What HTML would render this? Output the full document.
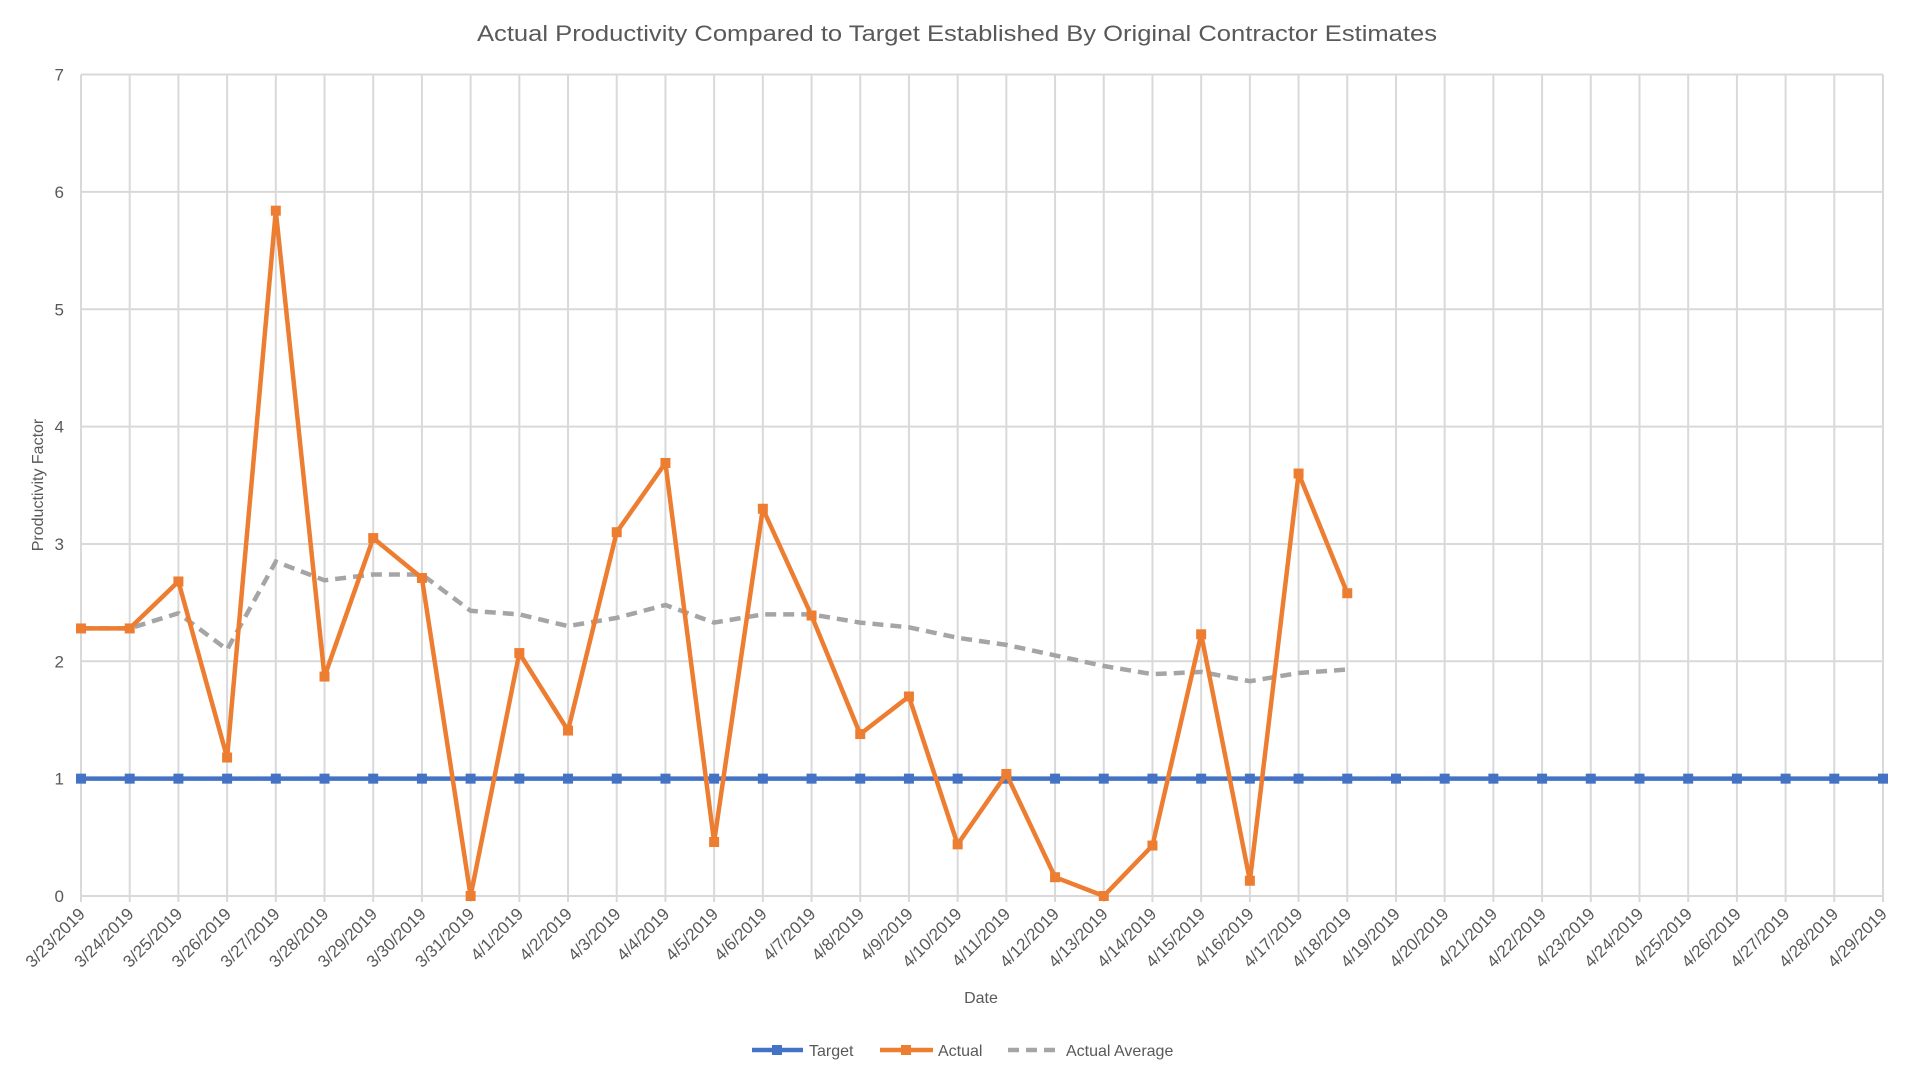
<!DOCTYPE html>
<html><head><meta charset="utf-8"><style>html,body{margin:0;padding:0;background:#fff;width:1920px;height:1080px;overflow:hidden}svg{display:block}text{font-family:"Liberation Sans",sans-serif;fill:#595959}</style></head>
<body>
<svg id="c" width="1920" height="1080" xmlns="http://www.w3.org/2000/svg"></svg>
<script>
const svg=document.getElementById('c');
const X0=81,DX=(1883-81)/37,Y0=896,DY=117.35;
const xs=i=>X0+i*DX, ys=v=>Y0-v*DY;
let h='';
h+='<text x="957" y="41" font-size="22" text-anchor="middle" textLength="960" lengthAdjust="spacingAndGlyphs">Actual Productivity Compared to Target Established By Original Contractor Estimates</text>';
for(let v=0;v<=7;v++){h+=`<line x1="${X0}" x2="1883" y1="${ys(v)}" y2="${ys(v)}" stroke="#d9d9d9" stroke-width="2"/>`;
h+=`<text x="64" y="${ys(v)+6}" font-size="17" text-anchor="end">${v}</text>`;}
const dates=[];
for(let d=23;d<=31;d++)dates.push('3/'+d+'/2019');
for(let d=1;d<=29;d++)dates.push('4/'+d+'/2019');
dates.forEach((s,i)=>{const x=xs(i);h+=`<line x1="${x}" x2="${x}" y1="${ys(7)}" y2="902" stroke="#d9d9d9" stroke-width="2"/>`;
h+=`<text transform="translate(${x+5},915) rotate(-45)" font-size="17" text-anchor="end">${s}</text>`;});
h+='<text x="981" y="1003" font-size="16" text-anchor="middle">Date</text>';
h+='<text transform="translate(43,485) rotate(-90)" font-size="16" text-anchor="middle">Productivity Factor</text>';
const act=[2.28,2.28,2.68,1.18,5.84,1.87,3.05,2.71,0,2.07,1.41,3.1,3.69,0.46,3.3,2.39,1.38,1.7,0.44,1.04,0.16,0,0.43,2.23,0.13,3.6,2.58];
const avg=[2.28,2.28,2.41,2.1,2.85,2.69,2.74,2.74,2.43,2.4,2.3,2.37,2.48,2.33,2.4,2.4,2.33,2.29,2.2,2.14,2.05,1.96,1.89,1.91,1.83,1.9,1.93];
const pts=a=>a.map((v,i)=>xs(i).toFixed(1)+','+ys(v).toFixed(1)).join(' ');
const tgt=dates.map(()=>1);
h+=`<polyline points="${pts(tgt)}" fill="none" stroke="#4472c4" stroke-width="4.5"/>`;
tgt.forEach((v,i)=>h+=`<rect x="${xs(i)-5}" y="${ys(v)-5}" width="10" height="10" fill="#4472c4"/>`);
h+=`<polyline points="${pts(avg)}" fill="none" stroke="#a5a5a5" stroke-width="4.5" stroke-dasharray="11,7"/>`;
h+=`<polyline points="${pts(act)}" fill="none" stroke="#ed7d31" stroke-width="4.5" stroke-linejoin="round"/>`;
act.forEach((v,i)=>h+=`<rect x="${xs(i)-5}" y="${ys(v)-5}" width="10" height="10" fill="#ed7d31"/>`);
h+='<line x1="752" x2="803" y1="1050" y2="1050" stroke="#4472c4" stroke-width="4.5"/><rect x="772" y="1045" width="10" height="10" fill="#4472c4"/><text x="809" y="1056" font-size="16">Target</text>';
h+='<line x1="880" x2="933" y1="1050" y2="1050" stroke="#ed7d31" stroke-width="4.5"/><rect x="901" y="1045" width="10" height="10" fill="#ed7d31"/><text x="938" y="1056" font-size="16">Actual</text>';
h+='<line x1="1008" x2="1060" y1="1050" y2="1050" stroke="#a5a5a5" stroke-width="4.5" stroke-dasharray="11,7"/><text x="1066" y="1056" font-size="16">Actual Average</text>';
svg.innerHTML=h;
</script>
</body></html>
